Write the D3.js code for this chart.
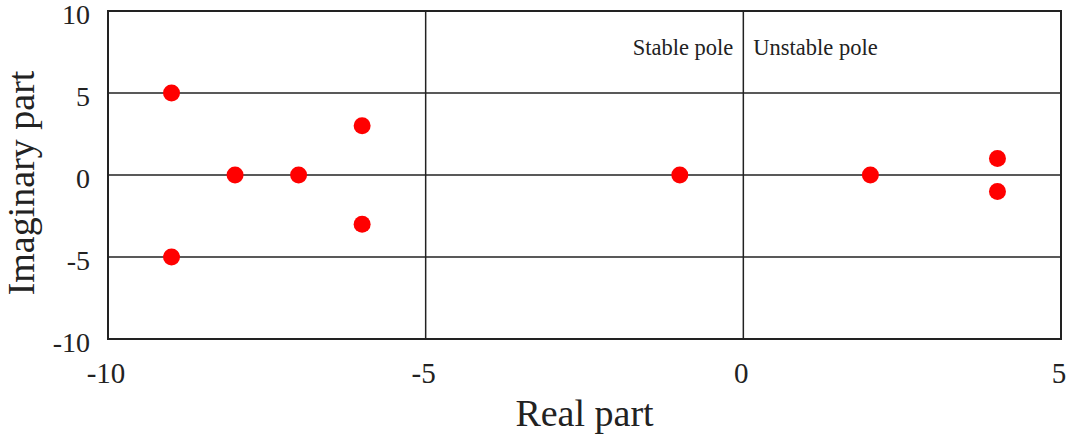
<!DOCTYPE html>
<html>
<head>
<meta charset="utf-8">
<script src="https://cdn.jsdelivr.net/npm/d3@7"></script>
<style>
  body { margin: 0; background: #fff; }
  text { font-family: "Liberation Serif", "DejaVu Serif", serif; fill: #222; }
</style>
</head>
<body>
<div id="chart"></div>
<script>
// pole locations
var realParts = [-9, -9, -8, -7, -6, -6, -1, 2, 4, 4];
var imagParts = [5, -5, 0, 0, 3, -3, 0, 0, 1, -1];
var xTicks = [-10, -5, 0, 5];
var yTicks = [-10, -5, 0, 5, 10];
var gridX = [-5, 0];
var gridY = [-5, 0, 5];

var svgWidth = 1068;
var svgHeight = 437;
var margin = { top: 11, right: 7, bottom: 98, left: 108 };
var width = svgWidth - margin.left - margin.right;
var height = svgHeight - margin.top - margin.bottom;

var svg = d3.select("#chart").append("svg")
  .attr("width", svgWidth)
  .attr("height", svgHeight);

var g = svg.append("g")
  .attr("transform", `translate(${margin.left}, ${margin.top})`);

var x = d3.scaleLinear().domain([-10, 5]).range([0, width]);
var y = d3.scaleLinear().domain([-10, 10]).range([height, 0]);

// grid lines
g.selectAll(".gx").data(gridX).enter().append("line")
  .attr("x1", d => x(d)).attr("x2", d => x(d))
  .attr("y1", 0).attr("y2", height)
  .attr("stroke", "#222").attr("stroke-width", 1.5);

g.selectAll(".gy").data(gridY).enter().append("line")
  .attr("y1", d => y(d)).attr("y2", d => y(d))
  .attr("x1", 0).attr("x2", width)
  .attr("stroke", "#222").attr("stroke-width", 1.5);

// frame
g.append("rect")
  .attr("width", width).attr("height", height)
  .attr("fill", "none").attr("stroke", "#222").attr("stroke-width", 2);

// tick labels
g.selectAll(".xt").data(xTicks).enter().append("text")
  .attr("x", d => x(d) - 2).attr("y", height + 44)
  .attr("text-anchor", "middle")
  .style("font-size", "29px")
  .text(d => d);

g.selectAll(".yt").data(yTicks).enter().append("text")
  .attr("x", -18).attr("y", d => y(d) + 13)
  .attr("text-anchor", "end")
  .style("font-size", "28px")
  .text(d => d);

// axis titles
g.append("text")
  .attr("x", width / 2).attr("y", height + 87)
  .attr("text-anchor", "middle")
  .style("font-size", "38px")
  .text("Real part");

g.append("text")
  .attr("transform", `translate(${-74}, ${height / 2 + 8}) rotate(-90)`)
  .attr("text-anchor", "middle")
  .style("font-size", "38px")
  .text("Imaginary part");

// annotations either side of the imaginary axis
g.append("text")
  .attr("x", x(0) - 10).attr("y", 44)
  .attr("text-anchor", "end")
  .style("font-size", "22.5px")
  .text("Stable pole");

g.append("text")
  .attr("x", x(0) + 10).attr("y", 44)
  .attr("text-anchor", "start")
  .style("font-size", "22.5px")
  .text("Unstable pole");

// poles
g.selectAll("circle").data(realParts).enter().append("circle")
  .attr("cx", d => x(d))
  .attr("cy", (d, i) => y(imagParts[i]))
  .attr("r", 8.5)
  .attr("fill", "#ff0000");
</script>
</body>
</html>
